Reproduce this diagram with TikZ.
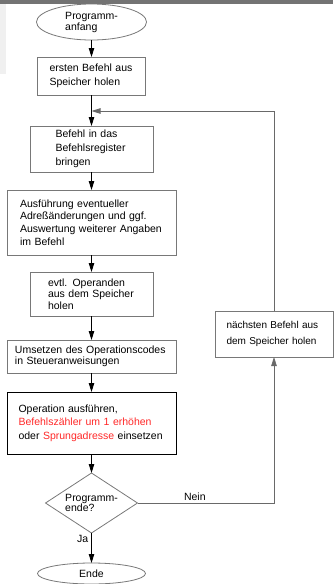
\documentclass[tikz,border=0pt]{standalone}
\usepackage{fontspec}
\setmainfont{Liberation Sans}
\usetikzlibrary{shapes.geometric,arrows.meta,positioning}

\definecolor{framegray}{RGB}{120,120,120}
\definecolor{linegray}{RGB}{105,105,105}
\definecolor{hired}{RGB}{255,40,40}

\tikzset{
	block/.style={rectangle, draw=framegray, line width=0.8pt, outer sep=0pt, align=left, inner xsep=2pt, inner ysep=2pt},
	term/.style={ellipse, draw=framegray, line width=0.8pt, outer sep=0pt, inner sep=0pt, align=left},
	decision/.style={diamond, draw=framegray, line width=0.8pt, outer sep=0pt, aspect=1.53, inner sep=0pt, minimum width=92pt, minimum height=60pt, align=left, font=\fontsize{10.5}{10}\selectfont},
	flow/.style={-{Triangle[length=9pt,width=5.5pt]}, line width=0.8pt},
	back/.style={flow, draw=linegray}
}

\begin{document}
\begin{tikzpicture}[x=1pt,y=1pt,font=\fontsize{10.5}{12.6}\selectfont]
	\useasboundingbox (0,0) rectangle (333,-584);
	\fill[black!55] (0,0) rectangle (333,-3.5);
	\fill[black!6] (0,-3.5) rectangle (6,-74);

	\node[term, minimum width=110pt, minimum height=36pt, font=\fontsize{10.5}{11}\selectfont](anfang) at (91.5,-22) {Programm-\\anfang};
	\node[block, minimum width=108pt, minimum height=38pt, text width=84pt, font=\fontsize{10.5}{14}\selectfont](holen)[below = 17pt of anfang]{ersten Befehl aus\\Speicher holen};
	\node[block, minimum width=123pt, minimum height=46pt, text width=72pt, font=\fontsize{10.5}{14}\selectfont](register)[below = 31pt of holen]{Befehl in das\\Befehlsregister\\bringen};
	\node[block, minimum width=169pt, minimum height=65pt, text width=143pt, font=\fontsize{10.5}{12.7}\selectfont](adress)[below = 18pt of register]{Ausführung eventueller\\Adreßänderungen und ggf.\\Auswertung weiterer Angaben\\im Befehl};
	\node[block, minimum width=123pt, minimum height=44pt, text width=87pt, font=\fontsize{10.5}{11.5}\selectfont](operand)[below = 17pt of adress]{evtl. Operanden\\aus dem Speicher\\holen};
	\node[block, minimum width=169pt, minimum height=33pt, text width=153pt, font=\fontsize{10.5}{11.5}\selectfont](umsetz)[below = 24pt of operand]{Umsetzen des Operationscodes\\in Steueranweisungen};
	\node[block, draw=black, minimum width=169pt, minimum height=62pt, text width=146pt, font=\fontsize{10.5}{13.5}\selectfont](ausfuehr)[below = 19pt of umsetz]{Operation ausführen,\\\textcolor{hired}{Befehlszähler um 1 erhöhen}\\oder \textcolor{hired}{Sprungadresse} einsetzen};
	\node[decision](dec)[below = 19pt of ausfuehr]{Programm-\\ende?};
	\node[term, minimum width=108pt, minimum height=21pt](ende)[below = 30pt of dec]{Ende};
	\node[block, minimum width=118pt, minimum height=46pt, text width=95pt, font=\fontsize{10}{16}\selectfont](naechst) at (274,-334) {nächsten Befehl aus\\dem Speicher holen};
	\coordinate (merge) at (91.5,-111);

	\path[flow](anfang) edge (holen);
	\path[flow](holen) edge (register);
	\path[flow](register) edge (adress);
	\path[flow](adress) edge (operand);
	\path[flow](operand) edge (umsetz);
	\path[flow](umsetz) edge (ausfuehr);
	\path[flow](ausfuehr) edge (dec);
	\path[flow](dec) edge node[left, pos=0.2, inner sep=3pt]{Ja} (ende);
	\draw[back](dec.east) -| node[above, pos=0.21, inner sep=2pt]{Nein} (naechst.south);
	\draw[back](naechst.north) |- (merge);
\end{tikzpicture}
\end{document}
